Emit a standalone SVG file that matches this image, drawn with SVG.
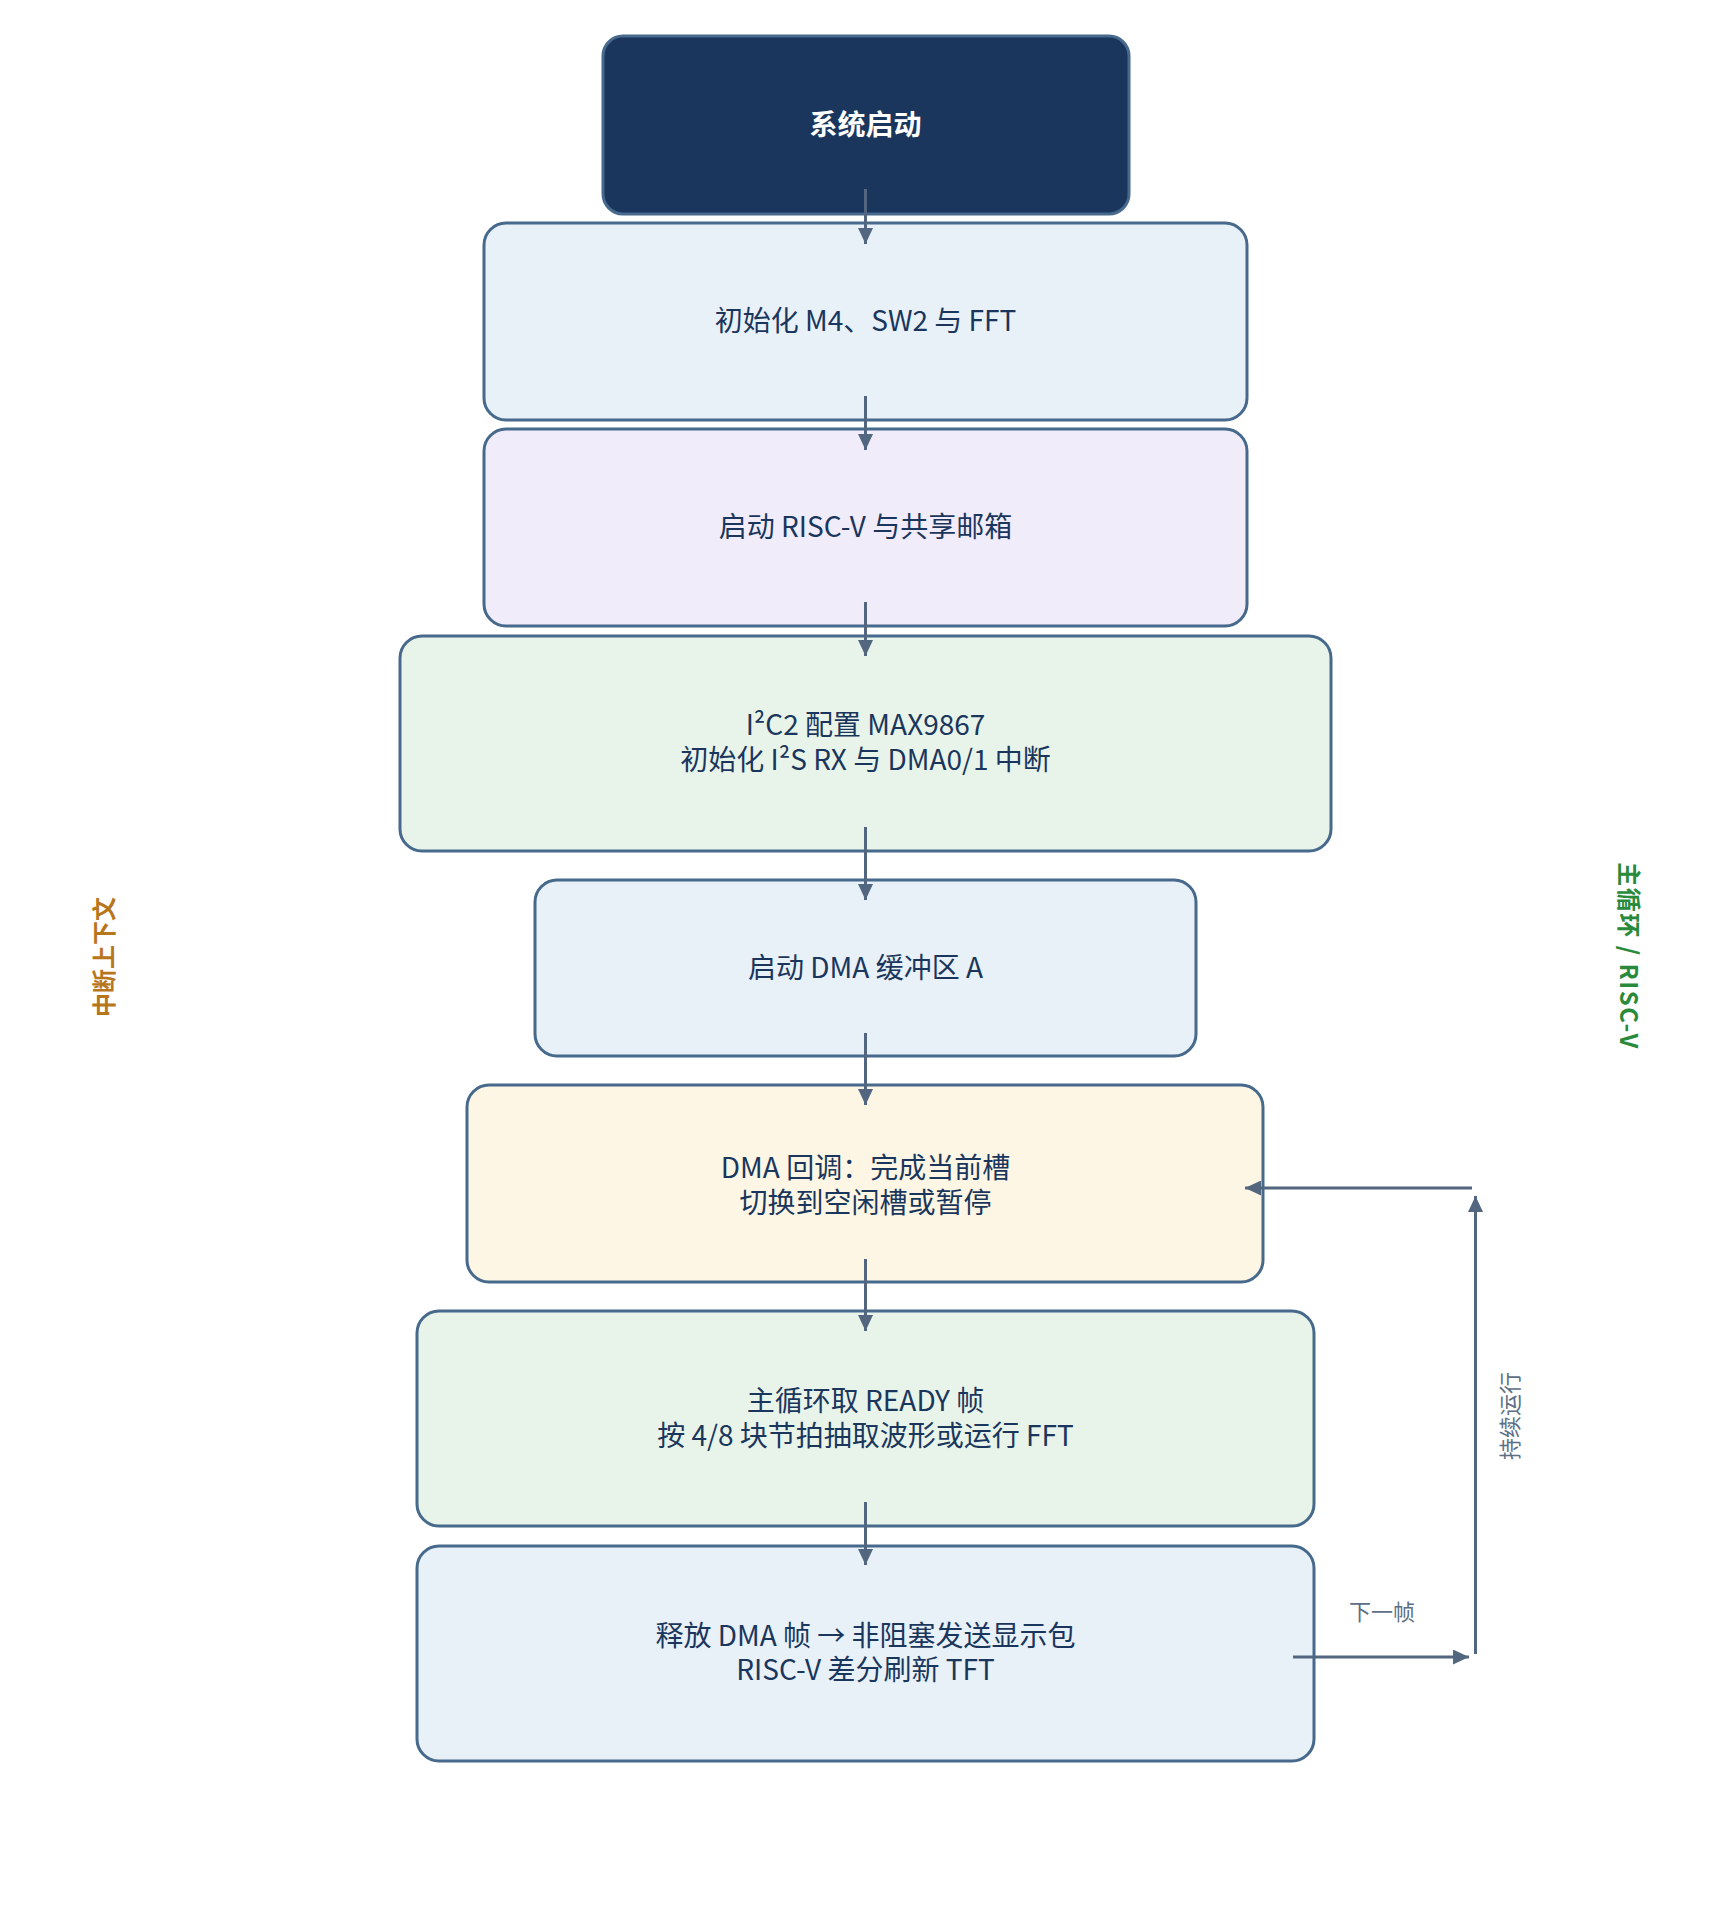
<svg xmlns="http://www.w3.org/2000/svg" width="1731" height="1910" viewBox="0 0 1731 1910">
<style>
  .node { stroke: #46698c; stroke-width: 3; }
  .txt { font-family: "Noto Sans CJK SC", "Liberation Sans", sans-serif; font-size: 28px; fill: #1a365d; text-anchor: middle; dominant-baseline: central; }
  .title { font-weight: bold; fill: #ffffff; }
  .conn { stroke: #52677f; stroke-width: 3; fill: none; }
  .small { font-family: "Noto Sans CJK SC", "Liberation Sans", sans-serif; font-size: 22px; fill: #5d6f85; text-anchor: middle; dominant-baseline: central; }
  .side { font-family: "Noto Sans CJK SC", "Liberation Sans", sans-serif; font-size: 24px; font-weight: bold; text-anchor: middle; dominant-baseline: central; }
</style>
<defs>
  <marker id="arr" markerUnits="userSpaceOnUse" markerWidth="16" markerHeight="15" refX="16" refY="7.5" orient="auto">
    <path d="M0,0 L16,7.5 L0,15 z" fill="#52677f"/>
  </marker>
</defs>
<rect width="1731" height="1910" fill="#ffffff"/>

<g id="n1">
  <rect class="node" x="603" y="36" width="526" height="178" rx="20" fill="#1a365d" stroke="#3f6488"/>
  <text class="txt title" x="865.5" y="123">系统启动</text>
</g>
<g id="n2">
  <rect class="node" x="484" y="223" width="763" height="197" rx="22" fill="#e8f0f8"/>
  <text class="txt" x="865.5" y="319">初始化 M4、SW2 与 FFT</text>
</g>
<g id="n3">
  <rect class="node" x="484" y="429" width="763" height="197" rx="22" fill="#f1ecf9"/>
  <text class="txt" x="865.5" y="525">启动 RISC-V 与共享邮箱</text>
</g>
<g id="n4">
  <rect class="node" x="400" y="636" width="931" height="215" rx="22" fill="#e8f4ea"/>
  <text class="txt" x="865.5" y="723">I²C2 配置 MAX9867</text>
  <text class="txt" x="865.5" y="758">初始化 I²S RX 与 DMA0/1 中断</text>
</g>
<g id="n5">
  <rect class="node" x="535" y="880" width="661" height="176" rx="22" fill="#e8f0f8"/>
  <text class="txt" x="865.5" y="966">启动 DMA 缓冲区 A</text>
</g>
<g id="n6">
  <rect class="node" x="467" y="1085" width="796" height="197" rx="22" fill="#fdf6e4"/>
  <text class="txt" x="865.5" y="1166">DMA 回调：完成当前槽</text>
  <text class="txt" x="865.5" y="1201">切换到空闲槽或暂停</text>
</g>
<g id="n7">
  <rect class="node" x="417" y="1311" width="897" height="215" rx="22" fill="#e8f4ea"/>
  <text class="txt" x="865.5" y="1399">主循环取 READY 帧</text>
  <text class="txt" x="865.5" y="1434">按 4/8 块节拍抽取波形或运行 FFT</text>
</g>
<g id="n8">
  <rect class="node" x="417" y="1546" width="897" height="215" rx="22" fill="#e8f0f8"/>
  <text class="txt" x="865.5" y="1634">释放 DMA 帧 → 非阻塞发送显示包</text>
  <text class="txt" x="865.5" y="1668">RISC-V 差分刷新 TFT</text>
</g>

<g id="connectors">
  <line class="conn" x1="865.5" y1="189" x2="865.5" y2="244" marker-end="url(#arr)"/>
  <line class="conn" x1="865.5" y1="396" x2="865.5" y2="450" marker-end="url(#arr)"/>
  <line class="conn" x1="865.5" y1="602" x2="865.5" y2="656" marker-end="url(#arr)"/>
  <line class="conn" x1="865.5" y1="827" x2="865.5" y2="900" marker-end="url(#arr)"/>
  <line class="conn" x1="865.5" y1="1033" x2="865.5" y2="1105" marker-end="url(#arr)"/>
  <line class="conn" x1="865.5" y1="1259" x2="865.5" y2="1331" marker-end="url(#arr)"/>
  <line class="conn" x1="865.5" y1="1502" x2="865.5" y2="1565" marker-end="url(#arr)"/>
  <line class="conn" x1="1293" y1="1657" x2="1469" y2="1657" marker-end="url(#arr)"/>
  <line class="conn" x1="1475.5" y1="1654" x2="1475.5" y2="1196" marker-end="url(#arr)"/>
  <line class="conn" x1="1472" y1="1188" x2="1245" y2="1188" marker-end="url(#arr)"/>
  <text class="small" x="1382" y="1610">下一帧</text>
  <text class="small" transform="translate(1508,1416) rotate(-90)" x="0" y="0">持续运行</text>
</g>

<g id="labels">
  <text class="side" fill="#b8761c" transform="translate(102,957) rotate(-90)" x="0" y="0">中断上下文</text>
  <text class="side" fill="#2a8a3c" font-size="25" letter-spacing="1.5" transform="translate(1630,956) rotate(90)" x="0" y="0">主循环 / RISC-V</text>
</g>
</svg>
